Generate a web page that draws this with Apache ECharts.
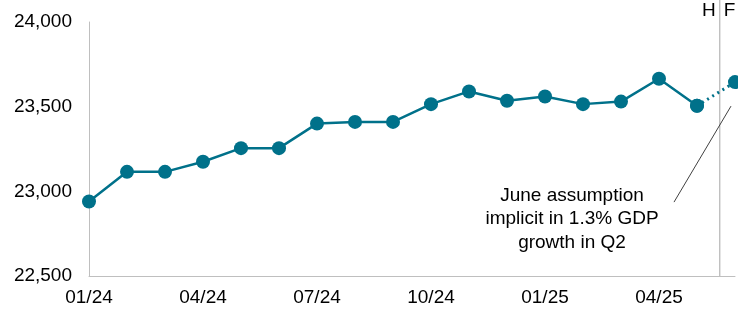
<!DOCTYPE html>
<html>
<head>
<meta charset="utf-8">
<script src="https://cdn.jsdelivr.net/npm/echarts@6/dist/echarts.min.js"></script>
<style>
  html, body { margin: 0; padding: 0; background: #fff; }
  #chart { width: 738px; height: 312px; }
</style>
</head>
<body>
<div id="chart"></div>
<script>
// months 01/24 .. 06/25
const months = ['01/24', '02/24', '03/24', '04/24', '05/24', '06/24', '07/24', '08/24', '09/24',
  '10/24', '11/24', '12/24', '01/25', '02/25', '03/25', '04/25', '05/25', '06/25'];
// outturn (H) values, last month is the assumption
const outturn = [22940, 23115, 23115, 23175, 23255, 23255, 23400, 23410, 23410,
  23515, 23590, 23535, 23560, 23515, 23530, 23665, 23505];
const assumption = 23645;
const yTicks = [22500, 23000, 23500, 24000];

const teal = '#00718A';
const font = '"Liberation Sans", Arial, sans-serif';

let chart = echarts.init(document.getElementById('chart'));

const solidData = outturn.map((v, i) => [i, v]);
const dottedData = [[outturn.length - 1, outturn[outturn.length - 1]], [months.length - 1, assumption]];

chart.setOption({
  animation: false,
  grid: { left: 89, right: 3, top: 22, bottom: 36 },
  xAxis: {
    type: 'value',
    min: 0,
    max: months.length - 1,
    interval: 3,
    splitLine: { show: false },
    axisTick: { show: false },
    axisLine: { show: true, lineStyle: { color: '#BFBFBF', width: 1 } },
    axisLabel: {
      color: '#000',
      fontFamily: font,
      fontSize: 19,
      margin: 12,
      showMaxLabel: false,
      formatter: v => months[v] || ''
    }
  },
  yAxis: {
    type: 'value',
    min: yTicks[0],
    max: yTicks[yTicks.length - 1],
    interval: 500,
    splitLine: { show: false },
    axisTick: { show: false },
    axisLine: { show: true, lineStyle: { color: '#BFBFBF', width: 1 } },
    axisLabel: {
      color: '#000',
      fontFamily: font,
      fontSize: 19,
      margin: 17,
      formatter: v => v.toLocaleString('en-GB')
    }
  },
  series: [
    {
      type: 'line',
      data: dottedData,
      symbol: 'circle',
      symbolSize: 14,
      lineStyle: { color: teal, width: 3, type: [2, 4] },
      itemStyle: { color: teal },
      z: 2
    },
    {
      type: 'line',
      data: solidData,
      symbol: 'circle',
      symbolSize: 14,
      lineStyle: { color: teal, width: 2.5 },
      itemStyle: { color: teal },
      z: 3
    }
  ]
});

// vertical H/F divider, labels and annotation
const base = chart.convertToPixel({ gridIndex: 0 }, [16.6, 22500]);
const last = chart.convertToPixel({ gridIndex: 0 }, [months.length - 1, assumption]);
chart.setOption({
  graphic: [
    {
      type: 'line',
      shape: { x1: base[0], y1: 0, x2: base[0], y2: base[1] },
      style: { stroke: '#A6A6A6', lineWidth: 1 },
      silent: true
    },
    {
      type: 'text', x: base[0] - 4, y: 11,
      style: { text: 'H', fill: '#000', font: '19px ' + font, align: 'right', verticalAlign: 'middle' }
    },
    {
      type: 'text', x: base[0] + 4, y: 11,
      style: { text: 'F', fill: '#000', font: '19px ' + font, align: 'left', verticalAlign: 'middle' }
    },
    {
      type: 'line',
      shape: { x1: last[0] - 4, y1: last[1] + 24, x2: last[0] - 61, y2: last[1] + 120 },
      style: { stroke: '#404040', lineWidth: 1 },
      silent: true
    },
    {
      type: 'text', x: 572, y: 219,
      style: {
        text: 'June assumption\nimplicit in 1.3% GDP\ngrowth in Q2',
        fill: '#000', font: '19px ' + font, align: 'center', verticalAlign: 'middle', lineHeight: 23.5
      }
    }
  ]
});
</script>
</body>
</html>
